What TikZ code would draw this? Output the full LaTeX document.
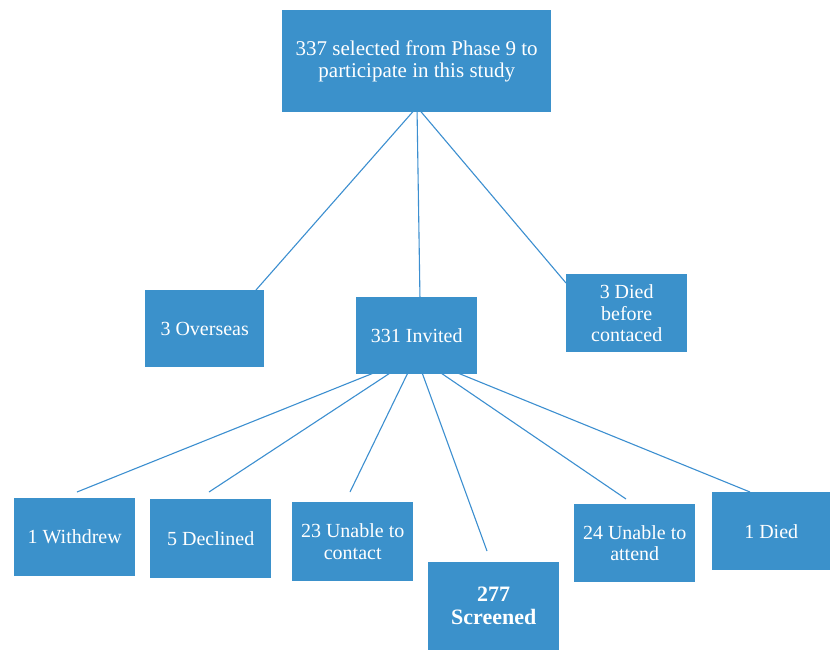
\documentclass[tikz,border=0pt]{standalone}
\usepackage{fontspec}
\setmainfont{Liberation Serif}
\usetikzlibrary{calc}
\pgfdeclarelayer{bg}
\pgfsetlayers{bg,main}
\definecolor{boxblue}{HTML}{3B91CB}
\definecolor{lineblue}{HTML}{3C8FD0}
\tikzset{
  box/.style={fill=boxblue, draw=none, text=white, anchor=north west, align=center,
    inner sep=0pt, font=\fontsize{20}{21.5}\selectfont},
  topfont/.style={font=\fontsize{21}{22}\selectfont},
  boldfont/.style={font=\fontsize{22}{23}\selectfont\bfseries},
  conn/.style={draw=lineblue, line width=1.1pt}
}
\newcommand{\mybox}[7][]{%
  \node[box, #1, minimum width={(#5-#3)*1pt}, minimum height={(#6-#4)*1pt}] (#2) at (#3,#4) {#7};}
\begin{document}
\begin{tikzpicture}[x=1pt,y=-1pt]
\useasboundingbox (0,0) rectangle (830,650);
\mybox[topfont]{top}{282}{10}{551}{112}{337 selected from Phase 9 to\\participate in this study}
\mybox{over}{145}{290}{264}{367}{3 Overseas}
\mybox{inv}{356}{297}{477}{374}{331 Invited}
\mybox{dieda}{566}{274}{687}{352}{3 Died\\before\\contaced}
\mybox{withd}{14}{498}{135}{576}{1 Withdrew}
\mybox{decl}{150}{499}{271}{578}{5 Declined}
\mybox{contact}{292}{502}{413}{581}{23 Unable to\\contact}
\mybox[boldfont]{screen}{428}{562}{559}{650}{277\\Screened}
\mybox{attend}{574}{504}{695}{582}{24 Unable to\\attend}
\mybox{diedb}{712}{492}{830}{570}{1 Died}
\coordinate (topO) at (417,107);
\coordinate (invO) at (416,356);
\coordinate (eOver) at (256,290);
\coordinate (eInv) at (420,300);
\coordinate (eDieda) at (566,283);
\coordinate (eWithd) at (77,492);
\coordinate (eDecl) at (209,492);
\coordinate (eContact) at (350,492);
\coordinate (eScreen) at (487,551);
\coordinate (eAttend) at (626,499);
\coordinate (eDiedb) at (750,492);
\begin{pgfonlayer}{bg}
\fill[white] (0,0) rectangle (830,650);
\draw[conn] (topO) -- (eOver);
\draw[conn] (topO) -- (eInv);
\draw[conn] (topO) -- (eDieda);
\draw[conn] (invO) -- (eWithd);
\draw[conn] (invO) -- (eDecl);
\draw[conn] (invO) -- (eContact);
\draw[conn] (invO) -- (eScreen);
\draw[conn] (invO) -- (eAttend);
\draw[conn] (invO) -- (eDiedb);
\end{pgfonlayer}
\end{tikzpicture}
\end{document}
